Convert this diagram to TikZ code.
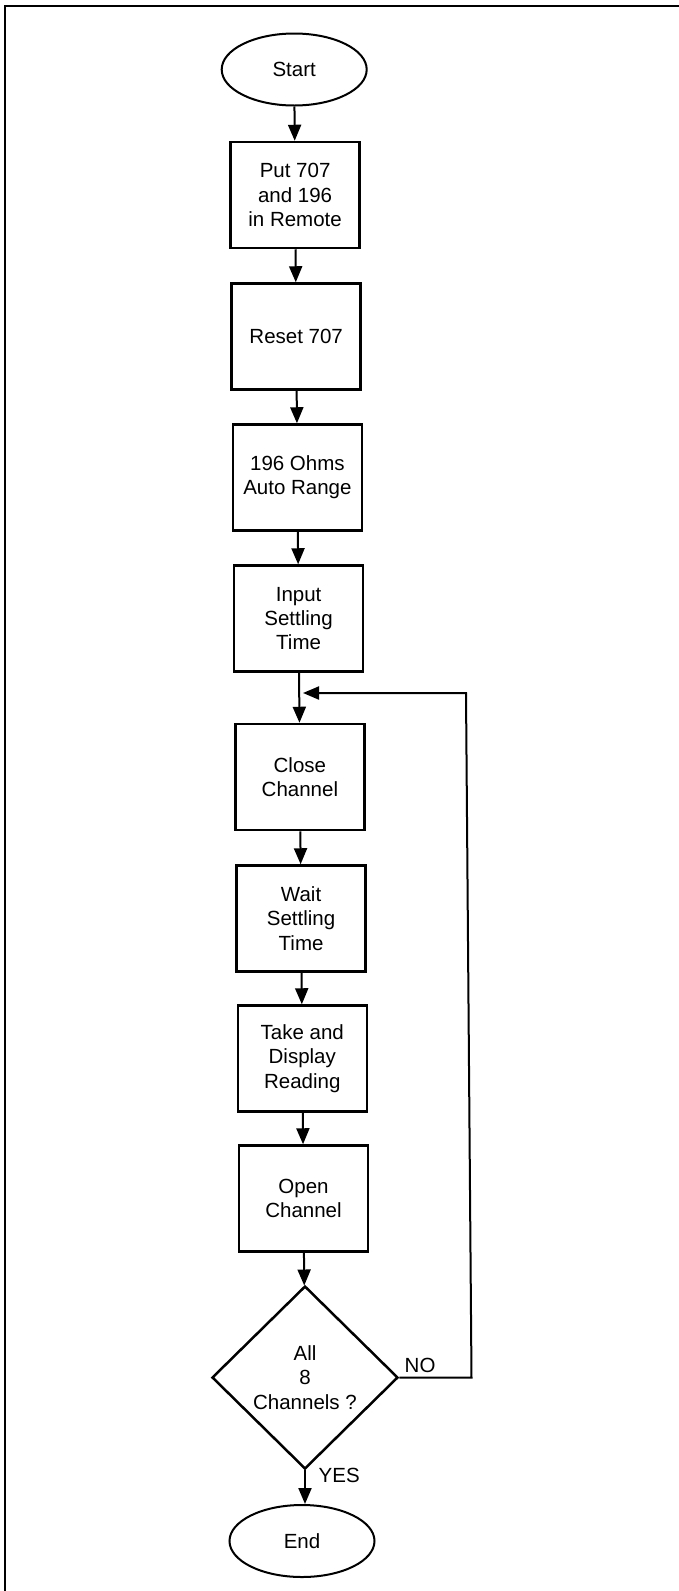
\documentclass[tikz,border=0pt]{standalone}
\usepackage{fontspec}
\setmainfont{Liberation Sans}
\usetikzlibrary{shapes.geometric,arrows.meta}
\tikzset{
  base/.style={font=\fontsize{20.5}{24.3}\selectfont, align=center, inner sep=0pt},
  stepbox/.style={base, draw, line width=2.5pt, minimum width=129pt, minimum height=106pt},
  term/.style={base, draw, ellipse, line width=2pt, minimum width=145pt, minimum height=72pt},
  decide/.style={base, draw, diamond, aspect=1, line width=2.5pt, minimum width=186pt, minimum height=183pt},
  flow/.style={line width=2pt, -{Triangle[length=16pt,width=13pt]}},
  plain/.style={line width=2pt},
  lbl/.style={font=\fontsize{20.5}{24.3}\selectfont, inner sep=0pt}
}
\begin{document}
\begin{tikzpicture}[x=1pt,y=-1pt]
\useasboundingbox (0,0) rectangle (679,1591);
% frame (top and left edges only)
\coordinate (fbl) at (5,1591);
\coordinate (ftl) at (5,5.5);
\coordinate (ftr) at (679,5.5);
\draw[plain] (fbl) -- (ftl) -- (ftr);

\node[term] (start) at (294.2,69.5) {Start};
\node[stepbox] (put) at (295.1,195) {Put 707\\and 196\\in Remote};
\node[stepbox] (reset) at (296.2,336.5) {Reset 707};
\node[stepbox] (ohms) at (297.4,477.5) {196 Ohms\\Auto Range};
\node[stepbox] (input) at (298.6,618.5) {Input\\Settling\\Time};
\node[stepbox] (close) at (299.9,777) {Close\\Channel};
\node[stepbox] (wait) at (301.1,918.5) {Wait\\Settling\\Time};
\node[stepbox] (take) at (302.3,1058.5) {Take and\\Display\\Reading};
\node[stepbox] (open) at (303.5,1198.5) {Open\\Channel};
\node[decide] (dec) at (305,1377.5) {All\\8\\Channels ?};
\node[term] (end) at (302,1541) {End};

\draw[flow] (start) -- (put);
\draw[flow] (put) -- (reset);
\draw[flow] (reset) -- (ohms);
\draw[flow] (ohms) -- (input);
\draw[flow] (input) -- (close);
\draw[flow] (close) -- (wait);
\draw[flow] (wait) -- (take);
\draw[flow] (take) -- (open);
\draw[flow] (open) -- (dec);
\draw[flow] (dec.south) -- (dec.south |- end.north);

\coordinate (lr1) at (471.5,1377.5);
\coordinate (lr2) at (466,693);
\coordinate (lend) at (303,693);
\draw[flow] (dec.east) -- (lr1) -- (lr2) -- (lend);

\node[lbl, anchor=base west] (no) at (404.5,1372) {NO};
\node[lbl, anchor=base west] (yes) at (318.5,1482) {YES};
\end{tikzpicture}
\end{document}
